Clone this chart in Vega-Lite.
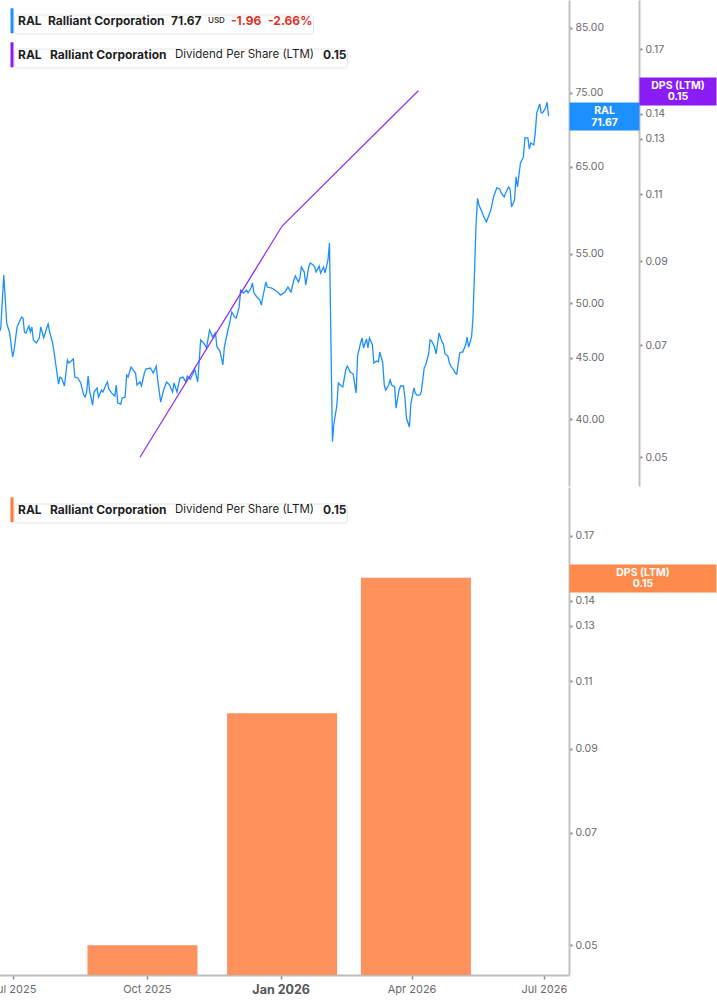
{
  "$schema": "https://vega.github.io/schema/vega-lite/v6.json",
  "background": "#ffffff",
  "padding": {"left": -10, "top": 0, "right": 0, "bottom": 0},
  "bounds": "flush",
  "spacing": 1,
  "datasets": {
    "price": [
      {"date": "2025-06-25", "price": 47.30}, {"date": "2025-06-26", "price": 47.66}, {"date": "2025-06-28", "price": 52.79},
      {"date": "2025-06-30", "price": 48.12}, {"date": "2025-07-02", "price": 47.21}, {"date": "2025-07-04", "price": 45.08},
      {"date": "2025-07-05", "price": 45.69}, {"date": "2025-07-07", "price": 47.76}, {"date": "2025-07-10", "price": 48.68},
      {"date": "2025-07-11", "price": 48.59}, {"date": "2025-07-12", "price": 47.30}, {"date": "2025-07-13", "price": 47.21},
      {"date": "2025-07-15", "price": 47.85}, {"date": "2025-07-16", "price": 47.30}, {"date": "2025-07-17", "price": 47.76},
      {"date": "2025-07-18", "price": 46.58}, {"date": "2025-07-20", "price": 46.31}, {"date": "2025-07-22", "price": 46.76},
      {"date": "2025-07-23", "price": 47.76}, {"date": "2025-07-25", "price": 46.76}, {"date": "2025-07-27", "price": 47.66},
      {"date": "2025-07-28", "price": 48.03}, {"date": "2025-07-29", "price": 47.30}, {"date": "2025-07-31", "price": 46.31},
      {"date": "2025-08-01", "price": 45.51}, {"date": "2025-08-02", "price": 44.56}, {"date": "2025-08-04", "price": 42.79},
      {"date": "2025-08-05", "price": 43.37}, {"date": "2025-08-06", "price": 43.29}, {"date": "2025-08-08", "price": 42.63},
      {"date": "2025-08-10", "price": 44.82}, {"date": "2025-08-11", "price": 44.56}, {"date": "2025-08-14", "price": 44.91},
      {"date": "2025-08-15", "price": 43.37}, {"date": "2025-08-17", "price": 43.29}, {"date": "2025-08-19", "price": 42.88},
      {"date": "2025-08-21", "price": 41.89}, {"date": "2025-08-22", "price": 41.73}, {"date": "2025-08-23", "price": 42.14},
      {"date": "2025-08-24", "price": 43.45}, {"date": "2025-08-25", "price": 42.22}, {"date": "2025-08-27", "price": 41.09},
      {"date": "2025-08-28", "price": 42.14}, {"date": "2025-08-30", "price": 42.46}, {"date": "2025-08-31", "price": 41.73},
      {"date": "2025-09-02", "price": 42.30}, {"date": "2025-09-03", "price": 42.14}, {"date": "2025-09-05", "price": 42.71},
      {"date": "2025-09-06", "price": 42.96}, {"date": "2025-09-07", "price": 42.38}, {"date": "2025-09-09", "price": 42.05},
      {"date": "2025-09-11", "price": 41.81}, {"date": "2025-09-12", "price": 42.71}, {"date": "2025-09-13", "price": 41.25},
      {"date": "2025-09-15", "price": 41.17}, {"date": "2025-09-16", "price": 41.65}, {"date": "2025-09-18", "price": 41.73},
      {"date": "2025-09-19", "price": 43.54}, {"date": "2025-09-20", "price": 43.37}, {"date": "2025-09-22", "price": 44.22},
      {"date": "2025-09-24", "price": 43.87}, {"date": "2025-09-25", "price": 43.71}, {"date": "2025-09-26", "price": 42.71},
      {"date": "2025-09-28", "price": 42.96}, {"date": "2025-09-29", "price": 42.63}, {"date": "2025-10-01", "price": 43.71},
      {"date": "2025-10-02", "price": 44.04}, {"date": "2025-10-05", "price": 44.13}, {"date": "2025-10-07", "price": 43.71},
      {"date": "2025-10-09", "price": 44.30}, {"date": "2025-10-10", "price": 43.12}, {"date": "2025-10-12", "price": 41.33},
      {"date": "2025-10-14", "price": 42.30}, {"date": "2025-10-16", "price": 42.96}, {"date": "2025-10-18", "price": 42.71},
      {"date": "2025-10-20", "price": 42.14}, {"date": "2025-10-21", "price": 42.88}, {"date": "2025-10-23", "price": 42.14},
      {"date": "2025-10-25", "price": 43.29}, {"date": "2025-10-27", "price": 43.37}, {"date": "2025-10-29", "price": 42.96},
      {"date": "2025-10-30", "price": 43.45}, {"date": "2025-11-01", "price": 43.20}, {"date": "2025-11-03", "price": 43.71},
      {"date": "2025-11-04", "price": 44.04}, {"date": "2025-11-06", "price": 42.96}, {"date": "2025-11-08", "price": 46.58},
      {"date": "2025-11-10", "price": 46.31}, {"date": "2025-11-12", "price": 45.87}, {"date": "2025-11-14", "price": 47.48},
      {"date": "2025-11-16", "price": 46.85}, {"date": "2025-11-18", "price": 47.21}, {"date": "2025-11-19", "price": 45.95},
      {"date": "2025-11-21", "price": 45.60}, {"date": "2025-11-23", "price": 44.39}, {"date": "2025-11-24", "price": 45.95},
      {"date": "2025-11-26", "price": 47.21}, {"date": "2025-11-28", "price": 48.40}, {"date": "2025-11-29", "price": 49.16},
      {"date": "2025-12-01", "price": 48.68}, {"date": "2025-12-02", "price": 48.59}, {"date": "2025-12-04", "price": 49.63},
      {"date": "2025-12-05", "price": 51.28}, {"date": "2025-12-07", "price": 50.99}, {"date": "2025-12-09", "price": 51.28},
      {"date": "2025-12-10", "price": 50.99}, {"date": "2025-12-12", "price": 51.48}, {"date": "2025-12-13", "price": 51.98},
      {"date": "2025-12-14", "price": 50.99}, {"date": "2025-12-16", "price": 50.60}, {"date": "2025-12-18", "price": 50.31},
      {"date": "2025-12-19", "price": 49.82}, {"date": "2025-12-20", "price": 50.60}, {"date": "2025-12-22", "price": 52.08},
      {"date": "2025-12-23", "price": 51.58}, {"date": "2025-12-26", "price": 51.48}, {"date": "2025-12-28", "price": 51.28},
      {"date": "2025-12-30", "price": 51.09}, {"date": "2026-01-01", "price": 50.79}, {"date": "2026-01-04", "price": 51.09},
      {"date": "2026-01-06", "price": 51.58}, {"date": "2026-01-08", "price": 51.09}, {"date": "2026-01-10", "price": 52.28},
      {"date": "2026-01-11", "price": 52.69}, {"date": "2026-01-13", "price": 52.08}, {"date": "2026-01-14", "price": 52.48},
      {"date": "2026-01-15", "price": 53.61}, {"date": "2026-01-17", "price": 53.09}, {"date": "2026-01-18", "price": 51.78},
      {"date": "2026-01-20", "price": 53.61}, {"date": "2026-01-21", "price": 54.03}, {"date": "2026-01-23", "price": 53.82},
      {"date": "2026-01-24", "price": 53.61}, {"date": "2026-01-25", "price": 53.09}, {"date": "2026-01-27", "price": 53.72},
      {"date": "2026-01-28", "price": 53.00}, {"date": "2026-01-30", "price": 53.61}, {"date": "2026-01-31", "price": 53.00},
      {"date": "2026-02-02", "price": 54.34}, {"date": "2026-02-03", "price": 56.15}, {"date": "2026-02-05", "price": 38.29},
      {"date": "2026-02-06", "price": 39.62}, {"date": "2026-02-08", "price": 41.09}, {"date": "2026-02-09", "price": 42.88},
      {"date": "2026-02-11", "price": 42.63}, {"date": "2026-02-12", "price": 42.55}, {"date": "2026-02-14", "price": 43.96},
      {"date": "2026-02-15", "price": 44.30}, {"date": "2026-02-17", "price": 43.79}, {"date": "2026-02-19", "price": 43.62},
      {"date": "2026-02-21", "price": 42.05}, {"date": "2026-02-22", "price": 45.16}, {"date": "2026-02-24", "price": 46.31},
      {"date": "2026-02-25", "price": 46.76}, {"date": "2026-02-26", "price": 45.87}, {"date": "2026-02-28", "price": 46.67},
      {"date": "2026-03-01", "price": 45.87}, {"date": "2026-03-02", "price": 46.76}, {"date": "2026-03-04", "price": 46.13},
      {"date": "2026-03-05", "price": 44.56}, {"date": "2026-03-07", "price": 44.73}, {"date": "2026-03-08", "price": 44.65},
      {"date": "2026-03-09", "price": 45.51}, {"date": "2026-03-11", "price": 44.56}, {"date": "2026-03-12", "price": 42.71},
      {"date": "2026-03-13", "price": 42.30}, {"date": "2026-03-15", "price": 42.71}, {"date": "2026-03-16", "price": 43.12},
      {"date": "2026-03-17", "price": 42.71}, {"date": "2026-03-19", "price": 42.55}, {"date": "2026-03-20", "price": 40.85},
      {"date": "2026-03-22", "price": 42.30}, {"date": "2026-03-23", "price": 42.63}, {"date": "2026-03-25", "price": 42.63},
      {"date": "2026-03-26", "price": 41.65}, {"date": "2026-03-27", "price": 40.08}, {"date": "2026-03-29", "price": 39.39},
      {"date": "2026-03-30", "price": 41.17}, {"date": "2026-04-01", "price": 42.46}, {"date": "2026-04-02", "price": 42.05},
      {"date": "2026-04-03", "price": 41.89}, {"date": "2026-04-05", "price": 41.89}, {"date": "2026-04-06", "price": 42.14},
      {"date": "2026-04-08", "price": 44.13}, {"date": "2026-04-09", "price": 44.39}, {"date": "2026-04-11", "price": 45.34},
      {"date": "2026-04-12", "price": 46.58}, {"date": "2026-04-13", "price": 46.49}, {"date": "2026-04-15", "price": 45.95},
      {"date": "2026-04-16", "price": 45.34}, {"date": "2026-04-17", "price": 46.22}, {"date": "2026-04-18", "price": 47.21},
      {"date": "2026-04-20", "price": 46.40}, {"date": "2026-04-21", "price": 46.22}, {"date": "2026-04-22", "price": 45.34},
      {"date": "2026-04-24", "price": 45.16}, {"date": "2026-04-25", "price": 44.56}, {"date": "2026-04-26", "price": 44.30},
      {"date": "2026-04-28", "price": 43.96}, {"date": "2026-04-29", "price": 43.71}, {"date": "2026-04-30", "price": 43.62},
      {"date": "2026-05-02", "price": 45.43}, {"date": "2026-05-03", "price": 45.51}, {"date": "2026-05-04", "price": 45.51},
      {"date": "2026-05-06", "price": 46.13}, {"date": "2026-05-07", "price": 46.85}, {"date": "2026-05-08", "price": 45.95},
      {"date": "2026-05-10", "price": 46.85}, {"date": "2026-05-11", "price": 48.78}, {"date": "2026-05-13", "price": 58.13},
      {"date": "2026-05-14", "price": 61.19}, {"date": "2026-05-15", "price": 60.41}, {"date": "2026-05-17", "price": 59.60},
      {"date": "2026-05-18", "price": 59.14}, {"date": "2026-05-19", "price": 58.80}, {"date": "2026-05-20", "price": 58.46},
      {"date": "2026-05-22", "price": 59.37}, {"date": "2026-05-23", "price": 59.83}, {"date": "2026-05-25", "price": 61.47},
      {"date": "2026-05-26", "price": 61.95}, {"date": "2026-05-27", "price": 62.43}, {"date": "2026-05-29", "price": 62.31},
      {"date": "2026-05-30", "price": 61.83}, {"date": "2026-06-01", "price": 61.35}, {"date": "2026-06-02", "price": 61.83},
      {"date": "2026-06-04", "price": 62.55}, {"date": "2026-06-05", "price": 62.31}, {"date": "2026-06-06", "price": 60.18},
      {"date": "2026-06-08", "price": 61.00}, {"date": "2026-06-09", "price": 63.77}, {"date": "2026-06-10", "price": 62.55},
      {"date": "2026-06-12", "price": 65.51}, {"date": "2026-06-13", "price": 65.89}, {"date": "2026-06-14", "price": 66.27},
      {"date": "2026-06-15", "price": 68.74}, {"date": "2026-06-17", "price": 68.74}, {"date": "2026-06-18", "price": 67.30},
      {"date": "2026-06-19", "price": 68.08}, {"date": "2026-06-21", "price": 67.82}, {"date": "2026-06-22", "price": 69.41},
      {"date": "2026-06-23", "price": 72.14}, {"date": "2026-06-25", "price": 73.40}, {"date": "2026-06-26", "price": 72.14},
      {"date": "2026-06-27", "price": 72.14}, {"date": "2026-06-29", "price": 72.84}, {"date": "2026-06-30", "price": 73.63},
      {"date": "2026-07-01", "price": 71.67}
    ],
    "dps": [
      {"date": "2025-09-28", "dps": 0.05},
      {"date": "2026-01-02", "dps": 0.10},
      {"date": "2026-04-04", "dps": 0.15}
    ],
    "hdr1": [
      {"h": "RAL"}, {"h": "Ralliant Corporation"}, {"h": "71.67"}, {"h": "USD"}, {"h": "-1.96"}, {"h": "-2.66%"}
    ],
    "hdr2": [
      {"h": "RAL"}, {"h": "Ralliant Corporation"}, {"h": "Dividend Per Share (LTM)"}, {"h": "0.15"}
    ]
  },
  "resolve": {"scale": {"color": "independent"}, "legend": {"color": "independent"}},
  "vconcat": [
    {
      "width": 570,
      "height": 486,
      "layer": [
        {
          "layer": [
            {
              "data": {"name": "price"},
              "mark": {"type": "line", "color": "#1e8fff", "strokeWidth": 1.3},
              "encoding": {
                "x": {"field": "date", "type": "temporal",
                  "scale": {"type": "utc", "domain": [{"year": 2025, "month": 6, "date": 24, "hours": 19, "utc": true}, {"year": 2026, "month": 7, "date": 14, "hours": 19, "utc": true}]},
                  "axis": {"orient": "bottom", "labels": false, "ticks": false, "domain": true, "domainColor": "#d9d9d9", "domainWidth": 2, "title": null, "grid": false}},
                "y": {"field": "price", "type": "quantitative",
                  "scale": {"type": "log", "domain": [35.16, 89.66], "nice": false},
                  "axis": {"orient": "right", "values": [40, 45, 50, 55, 65, 75, 85], "format": ".2f", "title": null, "grid": false,
                    "domainColor": "#c2c2c2", "domainWidth": 2, "tickColor": "#8c8c8c", "tickSize": 3, "tickWidth": 2,
                    "labelColor": "#6b6b6b", "labelFont": "Inter", "labelFontSize": 10.5, "labelPadding": 3, "labelFlush": false, "labelOverlap": false}}
              }
            },
            {
              "data": {"name": "price"},
              "mark": {"type": "point", "opacity": 0},
              "encoding": {
                "y": {"field": "price", "type": "quantitative",
                  "scale": {"type": "log", "domain": [35.16, 89.66], "nice": false},
                  "axis": {"orient": "right", "values": [71.67], "title": null, "grid": false, "domain": false,
                    "ticks": true, "tickSize": 70, "tickWidth": 28, "tickColor": "#1e8fff", "tickCap": "butt",
                    "labelAlign": "center", "labelBaseline": "middle", "labelPadding": -35, "labelOffset": -5.5, "labelColor": "#ffffff",
                    "labelFont": "Inter", "labelFontSize": 10.5, "labelFontWeight": "bold", "labelLineHeight": 11.5,
                    "labelExpr": "['RAL', format(datum.value, '.2f')]", "labelFlush": false, "labelOverlap": false, "labelBound": false, "zindex": 1}}
              }
            },
            {
              "data": {"name": "hdr1"},
              "mark": {"type": "point", "filled": true, "opacity": 0},
              "encoding": {
                "color": {"field": "h", "type": "nominal", "sort": null,
                  "scale": {"range": ["#1e8fff", "rgba(0,0,0,0)", "rgba(0,0,0,0)", "rgba(0,0,0,0)", "rgba(0,0,0,0)", "rgba(0,0,0,0)"]},
                  "legend": {"orient": "none", "legendX": 15, "legendY": 14.5, "direction": "horizontal", "title": null,
                    "padding": 0, "fillColor": "#ffffff", "strokeColor": "#e4e4e4", "cornerRadius": 3,
                    "symbolType": "M-1,-8.33L1,-8.33L1,8.33L-1,8.33Z", "symbolSize": 9, "symbolStrokeWidth": 0, "symbolOpacity": 1,
                    "symbolOffset": -8, "labelOffset": 0, "columnPadding": -2, "labelFont": "Inter", "labelLimit": 400,
                    "labelFontSize": {"expr": "datum.label === 'USD' ? 8 : 12"},
                    "labelFontWeight": {"expr": "datum.label === 'USD' ? 600 : 700"},
                    "labelColor": {"expr": "(datum.label === '-1.96' || datum.label === '-2.66%') ? '#e0312b' : (datum.label === 'USD' ? '#444444' : '#1f1f1f')"}}}
              }
            }
          ],
          "resolve": {"axis": {"y": "independent"}}
        },
        {
          "layer": [
            {
              "data": {"name": "dps"},
              "mark": {"type": "line", "color": "#8f2cf5", "strokeWidth": 1.2},
              "encoding": {
                "x": {"field": "date", "type": "temporal",
                  "scale": {"type": "utc", "domain": [{"year": 2025, "month": 6, "date": 24, "hours": 19, "utc": true}, {"year": 2026, "month": 7, "date": 14, "hours": 19, "utc": true}]},
                  "axis": null},
                "y": {"field": "dps", "type": "quantitative",
                  "scale": {"type": "log", "domain": [0.04588, 0.1969], "nice": false},
                  "axis": {"orient": "right", "offset": 70, "values": [0.05, 0.07, 0.09, 0.11, 0.13, 0.14, 0.17], "format": ".2f", "title": null, "grid": false,
                    "domainColor": "#c2c2c2", "domainWidth": 2, "tickColor": "#8c8c8c", "tickSize": 3, "tickWidth": 2,
                    "labelColor": "#6b6b6b", "labelFont": "Inter", "labelFontSize": 10.5, "labelPadding": 3, "labelFlush": false, "labelOverlap": false}}
              }
            },
            {
              "data": {"name": "dps"},
              "mark": {"type": "point", "opacity": 0},
              "encoding": {
                "y": {"field": "dps", "type": "quantitative",
                  "scale": {"type": "log", "domain": [0.04588, 0.1969], "nice": false},
                  "axis": {"orient": "right", "offset": 70, "values": [0.15], "title": null, "grid": false, "domain": false,
                    "ticks": true, "tickSize": 77, "tickWidth": 28, "tickColor": "#8a1cf6", "tickCap": "butt",
                    "labelAlign": "center", "labelBaseline": "middle", "labelPadding": -38.5, "labelOffset": -5.5, "labelColor": "#ffffff",
                    "labelFont": "Inter", "labelFontSize": 10.5, "labelFontWeight": "bold", "labelLineHeight": 11.5,
                    "labelExpr": "['DPS (LTM)', format(datum.value, '.2f')]", "labelFlush": false, "labelOverlap": false, "labelBound": false, "zindex": 1}}
              }
            },
            {
              "data": {"name": "hdr2"},
              "mark": {"type": "point", "filled": true, "opacity": 0},
              "encoding": {
                "color": {"field": "h", "type": "nominal", "sort": null,
                  "scale": {"range": ["#8a1cf6", "rgba(0,0,0,0)", "rgba(0,0,0,0)", "rgba(0,0,0,0)"]},
                  "legend": {"orient": "none", "legendX": 15, "legendY": 48.5, "direction": "horizontal", "title": null,
                    "padding": 0, "fillColor": "#ffffff", "strokeColor": "#e4e4e4", "cornerRadius": 3,
                    "symbolType": "M-1,-8.33L1,-8.33L1,8.33L-1,8.33Z", "symbolSize": 9, "symbolStrokeWidth": 0, "symbolOpacity": 1,
                    "symbolOffset": -8, "labelOffset": 0, "columnPadding": 0, "labelFont": "Inter", "labelLimit": 400,
                    "labelFontSize": {"expr": "datum.label === 'Dividend Per Share (LTM)' ? 11.5 : 12"},
                    "labelFontWeight": {"expr": "datum.label === 'Dividend Per Share (LTM)' ? 400 : 700"},
                    "labelColor": "#1f1f1f"}}
              }
            }
          ],
          "resolve": {"axis": {"y": "independent"}}
        }
      ],
      "resolve": {"scale": {"y": "independent", "color": "independent"}, "legend": {"color": "independent"}}
    },
    {
      "width": 570,
      "height": 488,
      "layer": [
        {
          "data": {"name": "dps"},
          "mark": {"type": "bar", "width": 110, "color": "#fe915c", "orient": "vertical"},
          "encoding": {
            "x": {"field": "date", "type": "temporal",
              "scale": {"type": "utc", "domain": [{"year": 2025, "month": 6, "date": 24, "hours": 19, "utc": true}, {"year": 2026, "month": 7, "date": 14, "hours": 19, "utc": true}]},
              "axis": {"orient": "bottom", "title": null, "grid": false,
                "labelExpr": "utcFormat(datum.value, '%b %Y')",
                "values": [{"year": 2025, "month": 7, "date": 1, "utc": true}, {"year": 2025, "month": 10, "date": 1, "utc": true}, {"year": 2026, "month": 1, "date": 1, "utc": true}, {"year": 2026, "month": 4, "date": 1, "utc": true}, {"year": 2026, "month": 7, "date": 1, "utc": true}],
                "domainColor": "#bdbdbd", "domainWidth": 2, "tickColor": "#8c8c8c", "tickSize": 4, "tickWidth": 1.5,
                "labelFont": "Inter", "labelPadding": 4, "labelFlush": false, "labelOverlap": false, "labelBound": false,
                "labelColor": {"condition": {"test": "utcmonth(datum.value) === 0", "value": "#555555"}, "value": "#6b6b6b"},
                "labelFontSize": {"condition": {"test": "utcmonth(datum.value) === 0", "value": 12.5}, "value": 11},
                "labelFontWeight": {"condition": {"test": "utcmonth(datum.value) === 0", "value": "bold"}, "value": "normal"}}},
            "y": {"field": "dps", "type": "quantitative", "stack": null,
              "scale": {"type": "log", "domain": [0.04573, 0.1967], "nice": false},
              "axis": {"orient": "right", "values": [0.05, 0.07, 0.09, 0.11, 0.13, 0.14, 0.17], "format": ".2f", "title": null, "grid": false,
                "domainColor": "#c2c2c2", "domainWidth": 2, "tickColor": "#8c8c8c", "tickSize": 3, "tickWidth": 2,
                "labelColor": "#6b6b6b", "labelFont": "Inter", "labelFontSize": 10.5, "labelPadding": 3, "labelFlush": false, "labelOverlap": false}},
            "y2": {"value": "height"}
          }
        },
        {
          "data": {"name": "dps"},
          "mark": {"type": "point", "opacity": 0},
          "encoding": {
            "y": {"field": "dps", "type": "quantitative",
              "scale": {"type": "log", "domain": [0.04573, 0.1967], "nice": false},
              "axis": {"orient": "right", "values": [0.15], "title": null, "grid": false, "domain": false,
                "ticks": true, "tickSize": 147, "tickWidth": 28, "tickColor": "#ff8a4c", "tickCap": "butt",
                "labelAlign": "center", "labelBaseline": "middle", "labelPadding": -73.5, "labelOffset": -5.5, "labelColor": "#ffffff",
                "labelFont": "Inter", "labelFontSize": 10.5, "labelFontWeight": "bold", "labelLineHeight": 11.5,
                "labelExpr": "['DPS (LTM)', format(datum.value, '.2f')]", "labelFlush": false, "labelOverlap": false, "labelBound": false, "zindex": 1}}
          }
        },
        {
          "data": {"name": "hdr2"},
          "mark": {"type": "point", "filled": true, "opacity": 0},
          "encoding": {
            "color": {"field": "h", "type": "nominal", "sort": null,
              "scale": {"range": ["#ff7a3a", "rgba(0,0,0,0)", "rgba(0,0,0,0)", "rgba(0,0,0,0)"]},
              "legend": {"orient": "none", "legendX": 15, "legendY": 16.5, "direction": "horizontal", "title": null,
                "padding": 0, "fillColor": "#ffffff", "strokeColor": "#e4e4e4", "cornerRadius": 3,
                "symbolType": "M-1,-8.33L1,-8.33L1,8.33L-1,8.33Z", "symbolSize": 9, "symbolStrokeWidth": 0, "symbolOpacity": 1,
                "symbolOffset": -8, "labelOffset": 0, "columnPadding": 0, "labelFont": "Inter", "labelLimit": 400,
                "labelFontSize": {"expr": "datum.label === 'Dividend Per Share (LTM)' ? 11.5 : 12"},
                "labelFontWeight": {"expr": "datum.label === 'Dividend Per Share (LTM)' ? 400 : 700"},
                "labelColor": "#1f1f1f"}}
          }
        }
      ],
      "resolve": {"axis": {"y": "independent"}}
    }
  ],
  "config": {
    "view": {"stroke": null},
    "font": "Inter",
    "axis": {"grid": false, "labelFont": "Inter"},
    "legend": {"labelFont": "Inter"}
  }
}
